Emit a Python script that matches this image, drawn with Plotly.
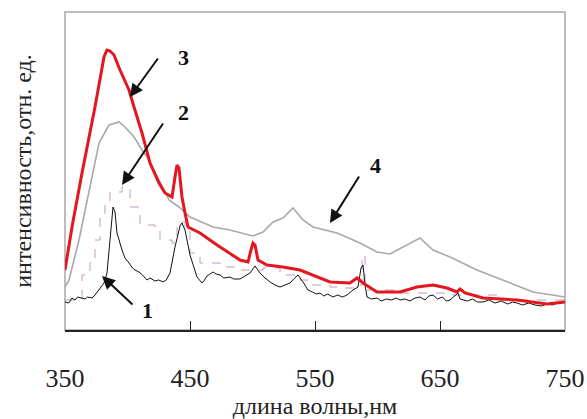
import plotly.graph_objects as go

# Curve 1 (black, noisy)
wl1 = [350, 353, 355.6, 358, 360, 363.6, 366, 368, 371.6, 374, 377.2, 379, 381.2, 383.6, 386, 387.6, 388.4, 390, 391.6,
       395.6, 398, 401.2, 404, 406, 409.2, 412, 415.6, 418, 422, 425, 428.4, 431, 434, 438, 442, 443.6, 446, 450,
       453, 455.6, 459.6, 461, 463.6, 466, 468.4, 471, 474, 477, 482, 485, 490, 494, 498, 502, 506, 510, 514, 518,
       522, 526, 530, 533, 536.4, 540.4, 544.4, 548, 551, 554, 557, 560, 564.4, 568, 572, 575.6, 578, 580.4,
       584.4, 586.8, 588.4, 590, 591.6, 595, 599.6, 603, 607, 611, 615, 618, 622, 626, 630, 634, 638, 641, 644.4,
       648, 652, 655, 658, 661, 664.4, 666, 668.4, 672, 676, 680, 684.4, 689, 694, 699, 704, 708, 711.6, 716, 721,
       726, 731, 735.6, 740, 744, 748, 750]
int1 = [28, 27, 32, 30, 33, 32, 31, 33, 32, 35, 40, 43, 47, 57, 90, 120, 123, 118, 97,
        80, 72, 67, 62, 60, 58, 55, 50, 52, 49, 50, 48, 50, 57, 83, 104, 107, 100, 75,
        62, 53, 47, 49, 54, 56, 58, 56, 55, 52, 53, 51, 51, 54, 57, 64, 57, 52, 48, 45,
        43, 45, 47, 51, 55, 48, 40, 38, 36, 37, 34, 36, 33, 35, 33, 35, 38, 40,
        43, 62, 65, 45, 33, 31, 32, 29, 31, 30, 32, 30, 31, 29, 32, 33, 30, 34, 35,
        31, 33, 29, 30, 33, 37, 31, 30, 29, 31, 28, 28, 30, 27, 29, 26, 28, 27, 25,
        27, 25, 24, 26, 25, 27, 27]

# Curve 2 (dashed, stepped)
wl2 = [350, 358, 363.6, 370, 374, 378, 382, 386, 395.6, 402, 410, 422, 426, 435.6, 439.6, 446, 450, 458, 474,
       490, 500.4, 508.4, 522, 538, 548.4, 562, 574, 584.4, 587.6, 590, 618, 658, 698, 750]
int2 = [30, 32, 55, 70, 90, 115, 125, 138, 143, 123, 105, 100, 90, 87, 108, 100, 77, 67, 63,
        60, 60, 62, 55, 50, 45, 43, 42, 45, 75, 40, 37, 35, 30, 28]

# Curve 3 (red)
wl3 = [350, 355.6, 363.6, 374, 381.2, 383.6, 386, 389.2, 394, 401.2, 405.2, 411.6, 418, 425.2, 430, 435.6, 438,
       439.6, 441.2, 443.6, 446, 448.4, 458, 471.6, 490, 496.4, 498.8, 500.4, 502, 504.4, 511.6, 524.4, 538, 546,
       562, 578, 583.6, 588.4, 599.6, 618, 631.6, 644.4, 655.6, 663.6, 666, 670, 684.4, 711.6, 735.6, 750]
int3 = [60, 103, 157, 223, 273, 280, 279, 275, 260, 240, 223, 197, 167, 147, 137, 133, 153,
        165, 162, 133, 117, 103, 97, 85, 70, 68, 80, 87, 85, 70, 65, 63, 60, 56,
        48, 47, 52, 47, 38, 38, 43, 45, 42, 38, 41, 37, 32, 30, 26, 28]

# Curve 4 (grey)
wl4 = [350, 353.2, 361.2, 369.2, 377.2, 385.2, 393.2, 398, 405.2, 411.6, 417.2, 425.2, 433.2, 441.2, 450, 468.4,
       482, 500.4, 508.4, 516.4, 524.4, 532.4, 540.4, 548.4, 567.6, 586, 599.6, 610, 620.4, 634, 644.4, 658,
       679.6, 700.4, 724.4, 750]
int4 = [43, 50, 90, 140, 187, 205, 208, 203, 193, 180, 170, 150, 130, 123, 113, 103,
        100, 94, 98, 108, 112, 122, 110, 103, 97, 87, 78, 76, 83, 92, 80, 73,
        60, 50, 38, 33]

x_ticks = [350, 450, 550, 650, 750]
labels = ["1", "2", "3", "4"]

fig = go.Figure()
fig.add_trace(go.Scatter(x=wl4, y=int4, mode="lines", line=dict(color="#a9a9a9", width=1.6), showlegend=False))
fig.add_trace(go.Scatter(x=wl2, y=int2, mode="lines", line=dict(color="#c09ac0", width=1, dash="dash", shape="hv"),
                         showlegend=False))
fig.add_trace(go.Scatter(x=wl1, y=int1, mode="lines", line=dict(color="#111111", width=1), showlegend=False))
fig.add_trace(go.Scatter(x=wl3, y=int3, mode="lines", line=dict(color="#e4161f", width=3), showlegend=False))

serif = "Liberation Serif"

# arrows: (head x, head y, ax, ay)
arrows = [(379.6, 54, 32, 30), (395.6, 145, 42, -63), (402, 233, 29, -40), (562, 107, 30, -48)]
for hx, hy, ax, ay in arrows:
    fig.add_annotation(x=hx, y=hy, ax=ax, ay=ay, text="", showarrow=True, arrowhead=2, arrowsize=1.3,
                       arrowwidth=2, arrowcolor="#111111")

label_pos = [(415.6, 20), (444.4, 218), (444.4, 273), (598, 165)]
for t, (lx, ly) in zip(labels, label_pos):
    fig.add_annotation(x=lx, y=ly, text="<b>%s</b>" % t, showarrow=False,
                       font=dict(family=serif, size=22, color="#111111"))

fig.add_shape(type="rect", xref="paper", yref="paper", x0=0, y0=0, x1=1, y1=1,
              line=dict(color="#a8a8a8", width=1.5), layer="below")

fig.update_layout(
    width=587, height=419,
    margin=dict(l=65, r=22, t=12, b=89),
    paper_bgcolor="white", plot_bgcolor="white",
    font=dict(family=serif),
    xaxis=dict(range=[350, 750], tickvals=x_ticks, ticktext=[str(v) for v in x_ticks], automargin=False,
               showgrid=False, zeroline=False, showline=True, linecolor="#222222", linewidth=1.5,
               ticks="inside", ticklen=9, tickcolor="#222222", tickwidth=1.3,
               tickfont=dict(family=serif, size=26, color="#222222"), ticklabelstandoff=24,
               title=dict(text="длина волны,нм", font=dict(family=serif, size=24, color="#222222"), standoff=5)),
    yaxis=dict(range=[0, 318], showticklabels=False, showgrid=False, zeroline=False, showline=False, ticks="",
               automargin=False,
               title=dict(text="интенсивность,отн. ед.", font=dict(family=serif, size=24, color="#222222"),
                          standoff=25)),
)

fig.write_html("out.html", config={"displayModeBar": False},
               post_script="document.body.style.margin='0';document.body.style.overflow='hidden';")
